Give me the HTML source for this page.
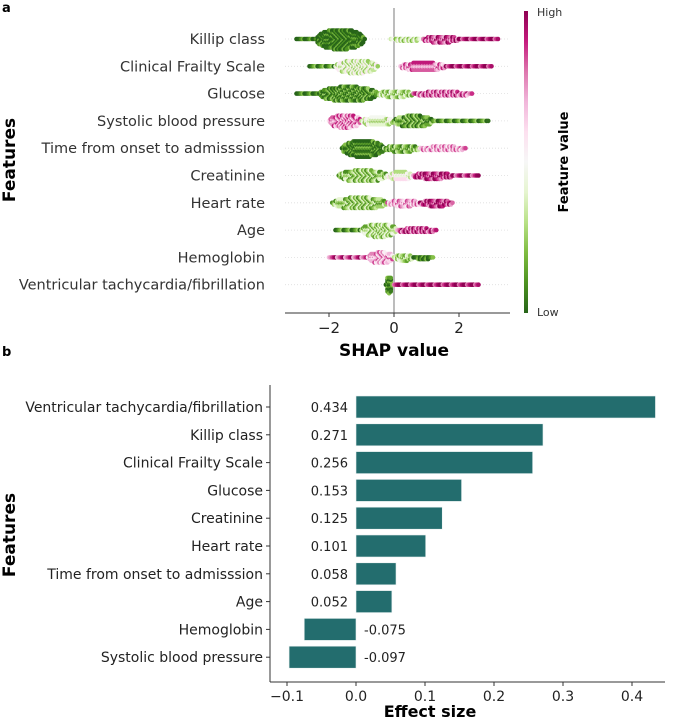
<!DOCTYPE html>
<html><head><meta charset="utf-8"><style>
body{margin:0;background:#fff;}
svg{font-family:"DejaVu Sans","Liberation Sans",sans-serif;}
</style></head><body>
<svg id="c" width="675" height="719" viewBox="0 0 675 719">
<text x="2" y="12" font-size="13" font-weight="bold">a</text>
<text x="2" y="356" font-size="13" font-weight="bold">b</text>
<g id="topPanel"></g>
<g id="botPanel"></g>
</svg>
<script>
const ns="http://www.w3.org/2000/svg";
function mk(tag,attrs,parent,txt){const e=document.createElementNS(ns,tag);for(const k in attrs)e.setAttribute(k,attrs[k]);if(txt!==undefined)e.textContent=txt;parent.appendChild(e);return e;}

// ---------- Panel a data ----------
const shapFeatures=["Killip class","Clinical Frailty Scale","Glucose","Systolic blood pressure","Time from onset to admisssion","Creatinine","Heart rate","Age","Hemoglobin","Ventricular tachycardia/fibrillation"];
// segments: [shapStart, shapEnd, featureValue(0-1), peakStackCount]
const shapSegments=[
 [[-3.0,-2.4,0.02,1],[-2.4,-0.9,0.02,12],[-0.1,0.9,0.35,2],[0.9,2.0,0.85,4],[2.0,3.2,0.95,1]],
 [[-2.6,-1.8,0.1,1],[-1.8,-0.5,0.4,8],[0.2,1.6,0.75,5],[1.6,3.0,0.95,1]],
 [[-3.0,-2.3,0.05,1],[-2.3,-0.5,0.1,9],[-0.5,0.6,0.3,4],[0.6,2.4,0.8,3]],
 [[-2.0,-1.0,0.75,8],[-1.0,0.0,0.4,5],[0.0,1.2,0.15,7],[1.2,2.9,0.1,1]],
 [[-1.6,-0.3,0.05,10],[-0.3,0.8,0.2,4],[0.8,2.2,0.7,3]],
 [[-1.7,-0.2,0.25,7],[-0.2,0.6,0.45,5],[0.6,1.8,0.9,4],[1.8,2.6,0.9,1]],
 [[-1.9,-0.2,0.25,7],[-0.2,0.8,0.7,4],[0.8,1.8,0.9,4]],
 [[-1.8,-1.0,0.1,1],[-1.0,0.1,0.3,8],[0.1,1.3,0.85,3]],
 [[-2.0,-0.8,0.85,1],[-0.8,0.0,0.7,7],[0.0,0.6,0.3,4],[0.6,1.2,0.05,2]],
 [[-0.25,-0.05,0.05,10],[0.0,2.6,0.95,1]]
];
const shapTicks=[-2,0,2];

// ---------- Panel b data ----------
const effFeatures=["Ventricular tachycardia/fibrillation","Killip class","Clinical Frailty Scale","Glucose","Creatinine","Heart rate","Time from onset to admisssion","Age","Hemoglobin","Systolic blood pressure"];
const effValues=[0.434,0.271,0.256,0.153,0.125,0.101,0.058,0.052,-0.075,-0.097];
const effTicks=[-0.1,0.0,0.1,0.2,0.3,0.4];

// ---------- Panel a ----------
const topG=document.getElementById('topPanel');
const sx=v=>394+v*32.5;
const rowY=i=>39+i*27.3;
const pal=["#276419","#4d9221","#7fbc41","#b8e186","#e6f5d0","#f7f7f7","#fde0ef","#f1b6da","#de77ae","#c51b7d","#8e0152"];
function cmap(t){t=Math.max(0,Math.min(1,t));const p=t*(pal.length-1),i=Math.min(pal.length-2,Math.floor(p)),f=p-i;
 const a=pal[i],b=pal[i+1];const c=k=>Math.round(parseInt(a.substr(k,2),16)*(1-f)+parseInt(b.substr(k,2),16)*f);
 return `rgb(${c(1)},${c(3)},${c(5)})`;}
shapFeatures.forEach((f,i)=>{
 const y=rowY(i);
 const gl=mk('line',{x1:285,x2:510,y1:y,y2:y,stroke:'#ddd','stroke-dasharray':'1,2','stroke-width':0.8},topG);
 
 
 const t=mk('text',{x:265,y:y+5,'font-size':14.5,fill:'#333','text-anchor':'end'},topG,f);
 
 
});
const zl=mk('line',{x1:sx(0),x2:sx(0),y1:8,y2:313,stroke:'#999','stroke-width':1.3},topG);


const dots=mk('g',{},topG);


shapSegments.forEach((segs,i)=>{
 const y=rowY(i);let idx=0;
 segs.forEach(s=>{
  const [a,b,fv,nm]=s;const steps=Math.max(1,Math.round((b-a)/0.05));
  for(let j=0;j<=steps;j++){
   const v=a+(b-a)*j/steps;const tt=j/steps;
   const prof=Math.sqrt(Math.max(0,1-Math.pow((tt-0.5)*2,2)));
   const n=Math.max(1,Math.round(nm*prof));
   for(let k=0;k<n;k++){
    const off=(k%2?1:-1)*Math.ceil(k/2)*1.7;
    const c=fv+((idx++%5)-2)*0.08;
    const d=mk('circle',{cx:sx(v),cy:y+off,r:2.3,fill:cmap(c)},dots);
    
    
   }
  }
 });
});
const ax=mk('line',{x1:285,x2:510,y1:313,y2:313,stroke:'#333','stroke-width':1},topG);


shapTicks.forEach(v=>{
 const tk=mk('line',{x1:sx(v),x2:sx(v),y1:313,y2:317,stroke:'#333'},topG);
 
 
 const tl=mk('text',{x:sx(v),y:333,'font-size':15,'text-anchor':'middle',fill:'#222'},topG,v<0?'\u2212'+Math.abs(v):String(v));
 
 
});
const xt=mk('text',{x:sx(0),y:356,'font-size':17,'font-weight':'bold','text-anchor':'middle'},topG,'SHAP value');


const yt=mk('text',{transform:'translate(15,160) rotate(-90)','font-size':17,'font-weight':'bold','text-anchor':'middle'},topG,'Features');


const defs=mk('defs',{},topG);const lg=mk('linearGradient',{id:'cg',x1:0,y1:1,x2:0,y2:0},defs);
pal.forEach((c,i)=>mk('stop',{offset:i/(pal.length-1),'stop-color':c},lg));
const cb=mk('rect',{x:524,y:11,width:4,height:302,fill:'url(#cg)'},topG);


const hi=mk('text',{x:537,y:16,'font-size':11,fill:'#333'},topG,'High');


const lo=mk('text',{x:537,y:316,'font-size':11,fill:'#333'},topG,'Low');


const ft=mk('text',{transform:'translate(568,162) rotate(-90)','font-size':13,'font-weight':'bold','text-anchor':'middle'},topG,'Feature value');



// ---------- Panel b ----------
const botG=document.getElementById('botPanel');
const bx=v=>356+v*690;
const by=i=>407+i*27.8;
effFeatures.forEach((f,i)=>{
 const y=by(i),v=effValues[i];
 const x0=Math.min(bx(0),bx(v)),w=Math.abs(bx(v)-bx(0));
 const r=mk('rect',{x:x0,y:y-11,width:w,height:22,fill:'#236d6e',stroke:'#e8f0f0','stroke-width':0.6},botG);
 
 
 const tk=mk('line',{x1:266,x2:270,y1:y,y2:y,stroke:'#333'},botG);
 
 
 const lb=mk('text',{x:263,y:y+5,'font-size':14,fill:'#222','text-anchor':'end'},botG,f);
 
 
 const vl=mk('text',{x:v>=0?bx(0)-8:bx(0)+8,y:y+5,'font-size':13,fill:'#222','text-anchor':v>=0?'end':'start'},botG,v.toFixed(3));
 
 
});
const la=mk('line',{x1:270,x2:270,y1:385,y2:682,stroke:'#333'},botG);


const ba=mk('line',{x1:270,x2:665,y1:682,y2:682,stroke:'#333'},botG);


effTicks.forEach(v=>{
 const tk=mk('line',{x1:bx(v),x2:bx(v),y1:682,y2:686,stroke:'#333'},botG);
 
 
 const tl=mk('text',{x:bx(v),y:701,'font-size':14,'text-anchor':'middle',fill:'#222'},botG,v<0?'\u2212'+Math.abs(v).toFixed(1):v.toFixed(1));
 
 
});
const bt=mk('text',{x:430,y:717,'font-size':16,'font-weight':'bold','text-anchor':'middle'},botG,'Effect size');


const byt=mk('text',{transform:'translate(15,535) rotate(-90)','font-size':17,'font-weight':'bold','text-anchor':'middle'},botG,'Features');


</script>
</body></html>
